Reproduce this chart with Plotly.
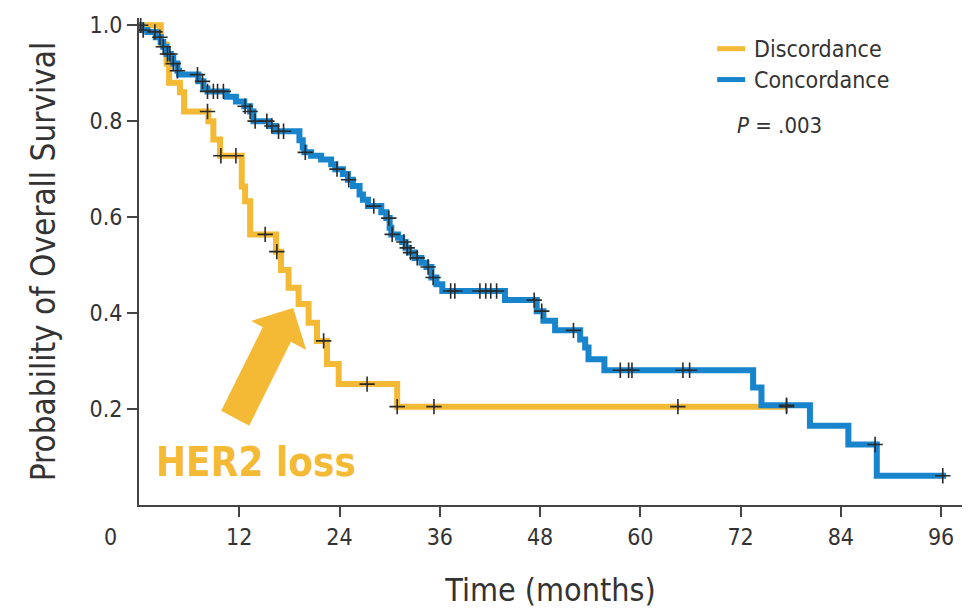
import plotly.graph_objects as go

# ---- data ----
disc_time = [0, 2.6, 3.3, 3.6, 4.9, 5.4, 8.3, 8.9, 9.7, 12.3, 12.7, 13.3, 16.4, 17.0,
             17.9, 19.1, 20.3, 21.3, 22.5, 23.9, 30.9, 77.5]
disc_surv = [1.0, 0.96, 0.92, 0.88, 0.86, 0.82, 0.80, 0.762, 0.728, 0.664, 0.633, 0.564,
             0.528, 0.49, 0.453, 0.419, 0.38, 0.342, 0.294, 0.252, 0.205, 0.205]
disc_censor = [8.2, 9.8, 11.6, 15.1, 16.5, 22.1, 27.3, 30.9, 35.3, 64.5, 77.5]

conc_time = [0, 0.3, 1.0, 2.0, 2.6, 2.9, 3.3, 3.8, 4.1, 4.6, 4.8, 7.1, 7.7, 8.2, 10.5,
             11.6, 12.6, 13.3, 13.7, 15.6, 16.3, 19.2, 19.6, 19.8, 20.6, 21.8, 23.0,
             23.5, 24.4, 25.0, 25.6, 26.4, 26.8, 27.4, 29.0, 29.6, 30.0, 30.2, 31.0,
             31.5, 31.9, 32.3, 33.0, 33.8, 34.4, 35.0, 35.6, 36.3, 43.8, 47.6, 48.4,
             49.8, 52.8, 53.4, 53.8, 55.7, 73.5, 74.5, 80.3, 84.9, 88.3, 96.6]
conc_surv = [1.0, 0.99, 0.986, 0.975, 0.965, 0.955, 0.94, 0.932, 0.92, 0.905, 0.897,
             0.883, 0.868, 0.862, 0.851, 0.841, 0.831, 0.82, 0.80, 0.79, 0.779, 0.76,
             0.745, 0.735, 0.728, 0.72, 0.71, 0.70, 0.69, 0.678, 0.665, 0.647, 0.636,
             0.623, 0.61, 0.598, 0.578, 0.564, 0.557, 0.548, 0.536, 0.526, 0.515, 0.505,
             0.496, 0.474, 0.46, 0.446, 0.427, 0.404, 0.384, 0.364, 0.345, 0.328, 0.304,
             0.281, 0.245, 0.208, 0.165, 0.126, 0.061, 0.061]
conc_censor = [0.2, 0.5, 1.9, 2.5, 2.9, 3.4, 3.7, 4.1, 4.6, 7.0, 7.6, 8.2, 8.9, 9.4, 10.1,
               12.7, 13.3, 13.9, 15.3, 15.9, 16.7, 17.3, 19.9, 23.7, 25.1, 28.1, 29.9,
               30.3, 31.7, 32.1, 32.5, 33.3, 34.6, 35.2, 37.3, 37.8, 40.8, 41.5, 42.1,
               42.8, 47.3, 48.2, 52.0, 57.6, 58.6, 59.0, 65.1, 65.9, 77.5, 88.1, 96.2]

x_ticks = [12, 24, 36, 48, 60, 72, 84, 96]
y_ticks = [0.2, 0.4, 0.6, 0.8, 1.0]

YELLOW = "#F4BA35"
BLUE = "#1784CC"
TXT = "#333333"
FONT = "DejaVu Sans Condensed, Liberation Sans Narrow, Arial Narrow, sans-serif"


def step_value(times, surv, t):
    v = surv[0]
    for ti, si in zip(times, surv):
        if ti <= t:
            v = si
    return v


fig = go.Figure()
fig.add_trace(go.Scatter(x=disc_time, y=disc_surv, mode="lines", line_shape="hv",
                         line=dict(color=YELLOW, width=6), name="Discordance",
                         showlegend=False))
fig.add_trace(go.Scatter(x=conc_time, y=conc_surv, mode="lines", line_shape="hv",
                         line=dict(color=BLUE, width=6), name="Concordance",
                         showlegend=False))
for times, surv, cens in [(disc_time, disc_surv, disc_censor),
                          (conc_time, conc_surv, conc_censor)]:
    fig.add_trace(go.Scatter(
        x=cens, y=[step_value(times, surv, c) for c in cens], mode="markers",
        marker=dict(symbol="cross-thin", size=11, line=dict(color="#2a2a2a", width=1.6)),
        showlegend=False, hoverinfo="skip"))

# HER2 loss arrow (decoration)
arrow = [(18.46, 0.4106), (20.01, 0.3233), (18.18, 0.340), (13.19, 0.1653),
         (9.84, 0.1965), (14.81, 0.3707), (13.43, 0.3836)]
path = "M " + " L ".join(f"{a},{b}" for a, b in arrow) + " Z"
fig.add_shape(type="path", path=path, xref="x", yref="y", fillcolor=YELLOW,
              line=dict(width=0), layer="above")

annotations = [
    dict(text="HER2 loss", x=14.0, y=0.09, xref="x", yref="y", showarrow=False,
         xanchor="center", yanchor="middle",
         font=dict(family=FONT, size=40, color=YELLOW, weight="bold")),
    dict(text="0", x=0, y=-0.0666, xref="paper", yref="paper", xshift=-29,
         xanchor="center", yanchor="middle",
         showarrow=False, font=dict(family=FONT, size=23, color=TXT)),
    dict(text="Discordance", x=0.7449, y=0.937, xref="paper", yref="paper",
         xanchor="left", yanchor="middle", showarrow=False,
         font=dict(family=FONT, size=23, color=TXT)),
    dict(text="Concordance", x=0.7449, y=0.8736, xref="paper", yref="paper",
         xanchor="left", yanchor="middle", showarrow=False,
         font=dict(family=FONT, size=23, color=TXT)),
    dict(text="<i>P</i> = .003", x=0.7242, y=0.7794, xref="paper", yref="paper",
         xanchor="left", yanchor="middle", showarrow=False,
         font=dict(family=FONT, size=22, color=TXT)),
]
fig.add_shape(type="line", xref="paper", yref="paper", x0=0.7025, x1=0.7365,
              y0=0.937, y1=0.937, line=dict(color=YELLOW, width=5))
fig.add_shape(type="line", xref="paper", yref="paper", x0=0.7025, x1=0.7365,
              y0=0.8736, y1=0.8736, line=dict(color=BLUE, width=5))

fig.update_layout(
    width=974, height=615,
    margin=dict(l=139, r=12, t=16, b=110),
    paper_bgcolor="white", plot_bgcolor="white",
    annotations=annotations,
    font=dict(family=FONT, color=TXT),
    xaxis=dict(range=[0, 98.5], tickvals=x_ticks, ticktext=[str(v) for v in x_ticks],
               showgrid=False, zeroline=False, showline=True, linecolor="#444",
               linewidth=2, ticks="outside", ticklen=10, tickwidth=1.5, tickcolor="#444",
               tickfont=dict(family=FONT, size=23, color=TXT),
               title=dict(text="Time (months)", font=dict(family=FONT, size=32, color=TXT),
                          standoff=30)),
    yaxis=dict(range=[0, 1.015], tickvals=y_ticks, tickformat=".1f",
               showgrid=False, zeroline=False, showline=True, linecolor="#444",
               linewidth=2, ticks="outside", ticklen=10, tickwidth=1.5, tickcolor="#444",
               tickfont=dict(family=FONT, size=23, color=TXT),
               title=dict(text="Probability of Overall Survival",
                          font=dict(family=FONT, size=33, color=TXT), standoff=24)),
)

fig.write_html("out.html")
